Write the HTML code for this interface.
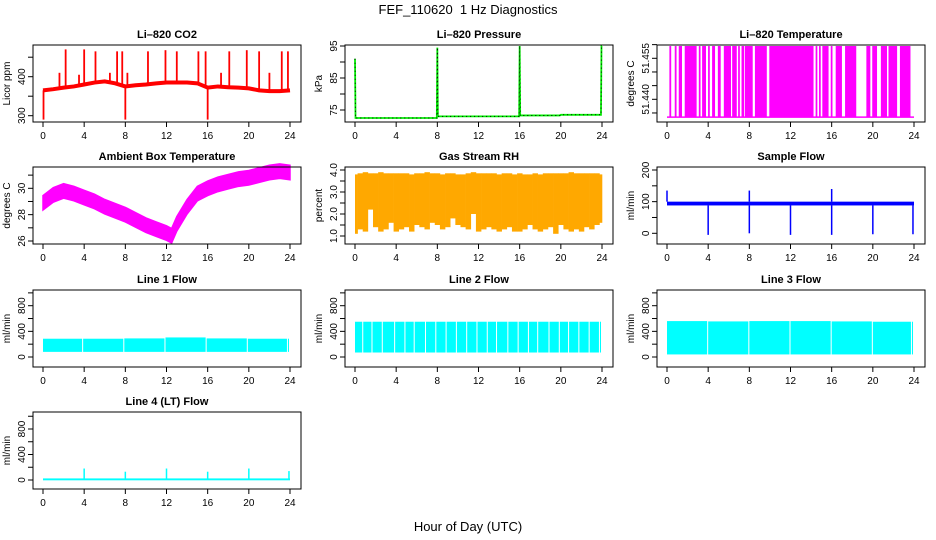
<!DOCTYPE html>
<html><head><meta charset="utf-8"><style>
body{margin:0;background:#fff}
svg{display:block;font-family:"Liberation Sans",sans-serif}
</style></head><body>
<svg id="c" width="936" height="540" viewBox="0 0 936 540" xmlns="http://www.w3.org/2000/svg">
<text x="468" y="14" text-anchor="middle" font-size="13">FEF_110620&#160; 1 Hz Diagnostics</text>
<text x="468" y="531" text-anchor="middle" font-size="13">Hour of Day (UTC)</text>
</svg>
<script>
// ---- data ----
const xTicks = [0,4,8,12,16,20,24];
const co2Hours = [0,1,2,3,4,5,6,7,8,9,10,11,12,13,14,15,16,17,18,19,20,21,22,23,24];
const co2Base = [365,368,372,375,380,385,388,383,375,378,380,383,385,385,385,383,372,375,373,372,370,365,363,363,365];
const co2SpikeHours = [2.2,4.0,5.1,7.2,7.7,10.2,11.9,13.0,15.1,15.8,18.1,19.8,21.0,23.2,23.8,1.6,3.5,6.5,8.2,17.3,22.0,0.05,8.0,16.0];
const co2SpikeVals = [470,470,465,465,465,465,468,465,465,465,465,468,465,465,465,410,405,410,410,410,410,290,290,290];
const presHours = [0,0.05,0.1,7.95,8.0,8.05,15.95,16.0,16.05,19.9,20.0,23.9,23.95,24];
const presVals = [91,72.5,72.5,72.5,94.5,73.0,73.0,95,73.3,73.3,73.5,73.5,95,95];
const tempHighStart = [0.29,0.81,1.2,1.78,3.15,3.47,4.05,4.44,5.0,5.58,6.39,6.97,7.3,7.62,8.6,10.0,14.5,14.83,15.15,15.97,16.45,17.36,19.43,20.0,20.84,21.58,22.69];
const tempHighEnd = [0.35,0.87,1.4,2.82,3.2,3.73,4.1,4.61,5.16,6.16,6.72,7.02,7.43,8.27,9.64,14.18,14.55,14.88,15.64,16.02,16.94,18.33,19.7,20.35,21.32,22.3,23.6];
const tempLow = 51.4335, tempHigh = 51.4595;
const ambHours = [0,1,2,3,4,5,6,7,8,9,10,11,12,12.5,13,14,15,16,17,18,19,20,21,22,23,24];
const ambVals = [28.9,29.5,29.8,29.6,29.3,29.0,28.6,28.3,28.0,27.6,27.2,26.9,26.6,26.4,27.3,28.6,29.6,30.0,30.3,30.5,30.7,30.8,31.0,31.2,31.3,31.2];
const rhLow = [1.1,1.3,1.2,2.2,1.4,1.2,1.3,1.6,1.2,1.3,1.4,1.2,1.5,1.4,1.3,1.6,1.5,1.3,1.4,1.8,1.5,1.4,1.3,2.0,1.2,1.3,1.4,1.3,1.2,1.3,1.4,1.2,1.2,1.3,1.5,1.3,1.2,1.3,1.4,1.1,1.5,1.3,1.2,1.3,1.2,1.4,1.3,1.5,1.6];
const rhHigh = [3.8,3.85,3.9,3.85,3.85,3.9,3.85,3.85,3.85,3.85,3.85,3.8,3.85,3.85,3.9,3.85,3.85,3.8,3.85,3.85,3.8,3.8,3.85,3.9,3.85,3.85,3.85,3.85,3.8,3.85,3.85,3.8,3.85,3.8,3.8,3.85,3.8,3.85,3.85,3.85,3.85,3.85,3.9,3.85,3.85,3.85,3.85,3.85,3.8];
const sfBaseLow = 88, sfBaseHigh = 100;
const sfDipHours = [4.0,8.0,12.0,16.0,20.0,23.9];
const sfDipVals = [-5,0,-5,-5,-3,-3];
const sfSpikeHours = [0.0,8.0,16.0];
const sfSpikeVals = [135,135,140];
const l1Gaps = [3.9,7.9,11.9,15.9,19.9,23.8];
const l1Low = [80,80,80,80,80,80];
const l1High = [285,285,290,305,290,285];
const l2Gaps = [0.8,1.7,2.7,3.9,4.9,5.8,6.9,7.9,8.9,9.9,10.9,11.9,12.9,13.8,14.9,15.9,16.9,17.8,18.9,19.9,20.8,21.8,22.8,23.8];
const l2Low = 70, l2High = 550;
const l3Gaps = [4.0,8.0,12.0,16.0,20.0,23.8];
const l3Low = [40,40,40,40,40,40];
const l3High = [560,555,560,560,555,550];
const l4SpikeHours = [4.0,8.0,12.0,16.0,20.0,23.9];
const l4SpikeVals = [180,130,180,130,180,140];

// ---- layout ----
const svg = document.getElementById('c');
const NS = 'http://www.w3.org/2000/svg';
const rowTop = [45,167,290,412], BH = 77;
function mk(tag, a, parent){const e=document.createElementNS(NS,tag);for(const k in a)e.setAttribute(k,a[k]);(parent||svg).appendChild(e);return e;}
function xOf(col,h){return 43+col*312+h*247/24;}
function panel(col,row,title,ylab,cal,ticks,labels,name){
  const g=mk('g',{});
  
  
  const L=33+col*312, R=301+col*312, T=rowTop[row], B=T+BH;
  const yOf=v=>cal[1]+(v-cal[0])*(cal[3]-cal[1])/(cal[2]-cal[0]);
  const t=mk('text',{x:(L+R)/2,y:T-7,'text-anchor':'middle','font-size':11,'font-weight':'bold'},g);t.textContent=title;
  
  
  const yl=mk('text',{x:0,y:0,transform:`translate(${L-23},${(T+B)/2}) rotate(-90)`,'text-anchor':'middle','font-size':10},g);yl.textContent=ylab;
  
  
  const data=mk('g',{},g);
  
  
  const xa=mk('g',{stroke:'#000','stroke-width':1},g);
  
  
  xTicks.forEach(h=>{const x=xOf(col,h);mk('line',{x1:x,x2:x,y1:B,y2:B+5},xa);
    const tl=mk('text',{x:x,y:B+17,'text-anchor':'middle','font-size':10,stroke:'none'},xa);tl.textContent=h;});
  const ya=mk('g',{stroke:'#000','stroke-width':1},g);
  
  
  ticks.forEach((v,i)=>{const y=yOf(v);mk('line',{x1:L-5,x2:L,y1:y,y2:y},ya);
    if(labels[i]!==null){const tl=mk('text',{x:0,y:0,transform:`translate(${L-8},${y}) rotate(-90)`,'text-anchor':'middle','font-size':10,stroke:'none'},ya);tl.textContent=labels[i];}});
  const box=mk('rect',{x:L,y:T,width:R-L,height:BH,fill:'none',stroke:'#000','stroke-width':1},g);
  
  
  return {g:data,yOf,x:h=>xOf(col,h)};
}
function interp(hs,vs,h){for(let i=0;i<hs.length-1;i++){if(h>=hs[i]&&h<=hs[i+1]){const f=(h-hs[i])/(hs[i+1]-hs[i]||1);return vs[i]+f*(vs[i+1]-vs[i]);}}return vs[vs.length-1];}

// CO2
(function(){
  const p=panel(0,0,'Li\u2013820 CO2','Licor ppm',[300,115.7,400,76.7],[300,350,400,450],['300',null,'400',null],'co2');
  co2SpikeHours.forEach((h,i)=>{const b=interp(co2Hours,co2Base,h);const l=mk('line',{x1:p.x(h),x2:p.x(h),y1:p.yOf(b),y2:p.yOf(co2SpikeVals[i]),stroke:'#ff0000','stroke-width':1.8},p.g);
    
    });
  const pl=mk('polyline',{points:co2Hours.map((h,i)=>p.x(h)+','+p.yOf(co2Base[i])).join(' '),fill:'none',stroke:'#ff0000','stroke-width':4},p.g);
  
  
})();
// Pressure
(function(){
  const p=panel(1,0,'Li\u2013820 Pressure','kPa',[75,110,95,46],[75,80,85,90,95],['75',null,'85',null,'95'],'pressure');
  const pts=presHours.map((h,i)=>p.x(h)+','+p.yOf(presVals[i])).join(' ');
  const pl=mk('polyline',{points:pts,fill:'none',stroke:'#00ee00','stroke-width':1.8},p.g);
  
  
  const pd=mk('polyline',{points:pts,fill:'none',stroke:'#000','stroke-width':1,'stroke-dasharray':'1 3'},p.g);
  
  
})();
// Li-820 temperature
(function(){
  const p=panel(2,0,'Li\u2013820 Temperature','degrees C',[51.44,99.3,51.455,58.3],[51.435,51.44,51.445,51.45,51.455,51.46],[null,'51.440',null,null,'51.455',null],'li820-temp');
  const bl=mk('line',{x1:p.x(0),x2:p.x(24),y1:p.yOf(tempLow),y2:p.yOf(tempLow),stroke:'#ff00ff','stroke-width':1.5},p.g);
  
  
  tempHighStart.forEach((s,i)=>{const x1=p.x(s),x2=p.x(tempHighEnd[i]);
    const r=mk('rect',{x:x1-0.6,y:p.yOf(tempHigh),width:Math.max(1.2,x2-x1+1.2),height:p.yOf(tempLow)-p.yOf(tempHigh),fill:'#ff00ff'},p.g);
    
    });
})();
// Ambient
(function(){
  const p=panel(0,1,'Ambient Box Temperature','degrees C',[26,241,30,188.3],[26,27,28,29,30,31],['26',null,'28',null,'30',null],'ambient-temp');
  const top=ambHours.map((h,i)=>p.x(h)+','+p.yOf(ambVals[i]+0.55));
  const bot=ambHours.map((h,i)=>p.x(h)+','+p.yOf(ambVals[i]-0.55)).reverse();
  const pg=mk('polygon',{points:top.concat(bot).join(' '),fill:'#ff00ff',stroke:'#ff00ff','stroke-width':1.5},p.g);
  
  
})();
// RH
(function(){
  const p=panel(1,1,'Gas Stream RH','percent',[1,236,4,170],[1,1.5,2,2.5,3,3.5,4],['1.0',null,'2.0',null,'3.0',null,'4.0'],'rh');
  rhLow.forEach((v,i)=>{const h0=i*0.5-0.25,h1=i*0.5+0.25;const a=Math.max(0,h0),b=Math.min(24,h1);
    const r=mk('rect',{x:p.x(a),y:p.yOf(rhHigh[i]),width:p.x(b)-p.x(a)+0.3,height:p.yOf(v)-p.yOf(rhHigh[i]),fill:'#ffa800'},p.g);
    
    });
})();
// Sample flow
(function(){
  const p=panel(2,1,'Sample Flow','ml/min',[0,233.3,200,170],[0,50,100,150,200],['0',null,'100',null,'200'],'sample-flow');
  const r=mk('rect',{x:p.x(0),y:p.yOf(sfBaseHigh),width:p.x(24)-p.x(0),height:p.yOf(sfBaseLow)-p.yOf(sfBaseHigh),fill:'#0000ff'},p.g);
  
  
  sfDipHours.forEach((h,i)=>{const l=mk('line',{x1:p.x(h),x2:p.x(h),y1:p.yOf(sfBaseLow),y2:p.yOf(sfDipVals[i]),stroke:'#0000ff','stroke-width':1.5},p.g);
    
    });
  sfSpikeHours.forEach((h,i)=>{const l=mk('line',{x1:p.x(h),x2:p.x(h),y1:p.yOf(sfBaseHigh),y2:p.yOf(sfSpikeVals[i]),stroke:'#0000ff','stroke-width':1.5},p.g);
    
    });
})();
function flowBands(p,gaps,lows,highs,name){
  let s=0;
  gaps.concat([24]).forEach((gEnd,i)=>{const lo=Array.isArray(lows)?lows[Math.min(i,lows.length-1)]:lows;const hi=Array.isArray(highs)?highs[Math.min(i,highs.length-1)]:highs;
    const x1=p.x(s),x2=p.x(Math.min(gEnd,24));
    if(x2>x1){const r=mk('rect',{x:x1,y:p.yOf(hi),width:Math.max(1,x2-x1-1),height:p.yOf(lo)-p.yOf(hi),fill:'#00ffff'},p.g);
      
      }
    s=gEnd;});
}
const flowTicks=[0,200,400,600,800,1000], flowLabels=['0',null,'400',null,'800',null];
(function(){const p=panel(0,2,'Line 1 Flow','ml/min',[0,357,800,305.7],flowTicks,flowLabels,'line1-flow');flowBands(p,l1Gaps,l1Low,l1High,'line1-flow');})();
(function(){const p=panel(1,2,'Line 2 Flow','ml/min',[0,357,800,305.7],flowTicks,flowLabels,'line2-flow');flowBands(p,l2Gaps,l2Low,l2High,'line2-flow');})();
(function(){const p=panel(2,2,'Line 3 Flow','ml/min',[0,357,800,305.7],flowTicks,flowLabels,'line3-flow');flowBands(p,l3Gaps,l3Low,l3High,'line3-flow');})();
(function(){
  const p=panel(0,3,'Line 4 (LT) Flow','ml/min',[0,480,800,429],flowTicks,flowLabels,'line4-flow');
  const r=mk('rect',{x:p.x(0),y:p.yOf(25),width:p.x(24)-p.x(0),height:p.yOf(-5)-p.yOf(25),fill:'#00ffff'},p.g);
  
  
  l4SpikeHours.forEach((h,i)=>{const l=mk('line',{x1:p.x(h),x2:p.x(h),y1:p.yOf(10),y2:p.yOf(l4SpikeVals[i]),stroke:'#00ffff','stroke-width':1.5},p.g);
    
    });
})();
</script>
</body></html>
